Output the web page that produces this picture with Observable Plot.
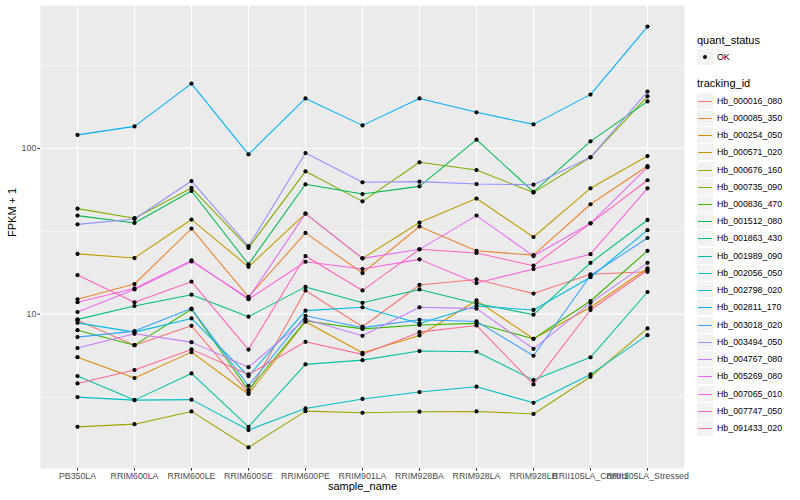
<!DOCTYPE html>
<html>
<head>
<meta charset="utf-8">
<script src="https://cdn.jsdelivr.net/npm/d3@7"></script>
<script src="https://cdn.jsdelivr.net/npm/@observablehq/plot@0.6"></script>
<style>
  html, body { margin: 0; padding: 0; background: #fff; }
  #wrap { position: relative; width: 800px; height: 500px; background: #fff; font-family: "Liberation Sans", Arial, Helvetica, sans-serif; }
  #legend { position: absolute; left: 697px; top: 0; font-family: "Liberation Sans", Arial, Helvetica, sans-serif; color: #000; }
  .ltitle { position: absolute; left: 0; font-size: 11px; white-space: nowrap; line-height: 13px; }
  .lkey { position: absolute; left: 0; width: 16px; height: 16px; background: #F2F2F2; }
  .llab { position: absolute; left: 20px; font-size: 8.8px; white-space: nowrap; line-height: 10px; }
</style>
</head>
<body>
<div id="wrap"></div>
<script>
// ---- data ----
const samples = ["PB350LA", "RRIM600LA", "RRIM600LE", "RRIM600SE", "RRIM600PE", "RRIM901LA",
  "RRIM928BA", "RRIM928LA", "RRIM928LB", "RRII105LA_Control", "RRII105LA_Stressed"];

const trackingIds = ["Hb_000016_080", "Hb_000085_350", "Hb_000254_050", "Hb_000571_020", "Hb_000676_160",
  "Hb_000735_090", "Hb_000836_470", "Hb_001512_080", "Hb_001863_430", "Hb_001989_090",
  "Hb_002056_050", "Hb_002798_020", "Hb_002811_170", "Hb_003018_020", "Hb_003494_050",
  "Hb_004767_080", "Hb_005269_080", "Hb_007065_010", "Hb_007747_050", "Hb_091433_020"];

const quantStatus = ["OK"];

// FPKM + 1 per sample, in the order of `samples`
const Hb_000016_080 = [9.2, 6.5, 8.5, 3.36, 13.9, 8.4, 15.0, 16.2, 13.3, 17.4, 18.0];
const Hb_000085_350 = [12.3, 15.2, 32.8, 12.7, 30.9, 17.7, 33.8, 24.1, 22.7, 46.0, 78.2];
const Hb_000254_050 = [5.5, 4.12, 5.9, 3.3, 9.0, 5.85, 7.44, 12.1, 7.1, 11.0, 18.9];
const Hb_000571_020 = [23.1, 21.8, 37.2, 19.3, 40.4, 21.7, 35.7, 49.8, 29.2, 57.4, 89.9];
const Hb_000676_160 = [2.09, 2.17, 2.59, 1.57, 2.60, 2.54, 2.58, 2.59, 2.50, 4.19, 8.2];
const Hb_000735_090 = [43.3, 37.9, 57.7, 25.1, 72.7, 47.9, 82.4, 74.0, 54.1, 88.3, 206];
const Hb_000836_470 = [8.0, 6.5, 10.7, 3.48, 9.1, 8.15, 8.6, 8.8, 7.1, 12.0, 24.1];
const Hb_001512_080 = [39.3, 35.5, 55.3, 20.0, 60.7, 53.0, 59.0, 112.8, 54.6, 110.2, 192];
const Hb_001863_430 = [9.3, 11.2, 13.1, 9.66, 14.6, 11.7, 14.1, 11.6, 9.93, 20.4, 37.0];
const Hb_001989_090 = [4.23, 3.03, 4.39, 2.09, 4.98, 5.28, 5.99, 5.93, 4.0, 5.49, 13.6];
const Hb_002056_050 = [3.16, 3.03, 3.05, 2.0, 2.7, 3.08, 3.39, 3.65, 2.92, 4.33, 7.47];
const Hb_002798_020 = [8.86, 7.79, 9.42, 4.23, 10.5, 11.0, 8.79, 11.2, 10.6, 16.7, 32.1];
const Hb_002811_170 = [120.6, 135.7, 246, 92.0, 200, 137.6, 200, 165, 139.5, 211, 543];
const Hb_003018_020 = [7.27, 7.9, 10.8, 3.7, 9.77, 8.29, 9.24, 9.04, 5.61, 17.1, 28.8];
const Hb_003494_050 = [34.8, 37.5, 63.5, 25.7, 93.7, 62.4, 63.0, 60.9, 60.4, 88.3, 220];
const Hb_004767_080 = [6.24, 7.61, 6.78, 4.79, 9.33, 7.4, 11.0, 10.8, 6.18, 11.7, 20.4];
const Hb_005269_080 = [10.3, 14.1, 20.8, 12.5, 40.4, 21.7, 24.6, 39.3, 22.4, 35.3, 76.8];
const Hb_007065_010 = [11.8, 14.3, 21.1, 12.3, 20.7, 18.7, 21.4, 15.4, 18.7, 23.0, 57.4];
const Hb_007747_050 = [17.2, 11.8, 15.7, 6.11, 22.4, 13.9, 24.6, 23.4, 19.6, 35.3, 64.2];
const Hb_091433_020 = [3.82, 4.6, 6.13, 4.33, 6.81, 5.72, 7.79, 8.55, 3.77, 10.6, 18.4];

const yTicks = [10, 100];
const yMinorTicks = [Math.sqrt(10), Math.sqrt(1000), Math.sqrt(100000)];

// ---- styles ----
const palette = ["#F8766D", "#EA8331", "#D89000", "#C09B00", "#A3A500", "#7CAE00", "#39B600", "#00BB4E",
  "#00BF7D", "#00C1A3", "#00BFC4", "#00BAE0", "#00B0F6", "#35A2FF", "#9590FF", "#C77CFF",
  "#E76BF3", "#FA62DB", "#FF62BC", "#FF6C91"];

const seriesList = [Hb_000016_080, Hb_000085_350, Hb_000254_050, Hb_000571_020, Hb_000676_160,
  Hb_000735_090, Hb_000836_470, Hb_001512_080, Hb_001863_430, Hb_001989_090,
  Hb_002056_050, Hb_002798_020, Hb_002811_170, Hb_003018_020, Hb_003494_050,
  Hb_004767_080, Hb_005269_080, Hb_007065_010, Hb_007747_050, Hb_091433_020];

const data = trackingIds.flatMap((id, i) =>
  seriesList[i].map((v, j) => ({ id, sample: samples[j], value: v, status: "OK" })));

// ggplot-like 5% expansion in log space
const logs = data.map(d => Math.log10(d.value));
const lo = d3.min(logs), hi = d3.max(logs), pad = (hi - lo) * 0.05;
const yDomain = [Math.pow(10, lo - pad), Math.pow(10, hi + pad)];

const font = '"Liberation Sans", Arial, Helvetica, sans-serif';

const chart = Plot.plot({
  width: 800,
  height: 500,
  marginLeft: 40,
  marginRight: 116,
  marginTop: 5,
  marginBottom: 32,
  style: { background: "transparent", fontFamily: font, fontSize: "8.8px", overflow: "visible" },
  x: { type: "point", domain: samples, padding: 0.6, label: null },
  y: { type: "log", domain: yDomain, label: null },
  color: { domain: trackingIds, range: palette },
  marks: [
    Plot.frame({ fill: "#EBEBEB", stroke: null }),
    Plot.gridY(yMinorTicks, { stroke: "#fff", strokeOpacity: 1, strokeWidth: 0.55 }),
    Plot.gridY(yTicks, { stroke: "#fff", strokeOpacity: 1, strokeWidth: 1.07 }),
    Plot.gridX(samples, { stroke: "#fff", strokeOpacity: 1, strokeWidth: 1.07 }),
    Plot.line(data, { x: "sample", y: "value", z: "id", stroke: "id", strokeWidth: 1.07 }),
    Plot.dot(data, { x: "sample", y: "value", r: 2.1, fill: "#000", stroke: null }),
    Plot.axisX(samples, { tickSize: 2.7, tickPadding: 2, stroke: "#333333", fill: "#4D4D4D", fontSize: 8.8, label: null }),
    Plot.axisY(yTicks, { tickSize: 2.7, tickPadding: 1.5, stroke: "#333333", fill: "#4D4D4D", fontSize: 8.8, label: null, tickFormat: d => String(d) }),
    Plot.text(["sample_name"], { text: d => d, frameAnchor: "bottom", dy: 21.5, fontSize: 11, fill: "#000" }),
    Plot.text(["FPKM + 1"], { text: d => d, frameAnchor: "left", dx: -28, rotate: -90, fontSize: 11, fill: "#000" })
  ]
});

const wrap = document.getElementById("wrap");
wrap.appendChild(chart);

// ---- legend (HTML, beside the plot) ----
const legend = document.createElement("div");
legend.id = "legend";
wrap.appendChild(legend);

function add(cls, top, text) {
  const el = document.createElement("div");
  el.className = cls;
  el.style.top = top + "px";
  if (text != null) el.textContent = text;
  legend.appendChild(el);
  return el;
}

add("ltitle", 34, "quant_status");
quantStatus.forEach((q, i) => {
  const k = add("lkey", 49 + i * 17);
  const dot = document.createElement("div");
  Object.assign(dot.style, { position: "absolute", left: "6px", top: "6px", width: "4px", height: "4px", borderRadius: "50%", background: "#000" });
  k.appendChild(dot);
  add("llab", 52 + i * 17, q);
});

add("ltitle", 77, "tracking_id");
trackingIds.forEach((id, i) => {
  const top = Math.round(92.6 + i * 17.23);
  const k = add("lkey", top);
  const ln = document.createElement("div");
  Object.assign(ln.style, { position: "absolute", left: "1px", width: "14px", top: "8px", height: "1px", background: palette[i] });
  k.appendChild(ln);
  add("llab", top + 3, id);
});
</script>
</body>
</html>
